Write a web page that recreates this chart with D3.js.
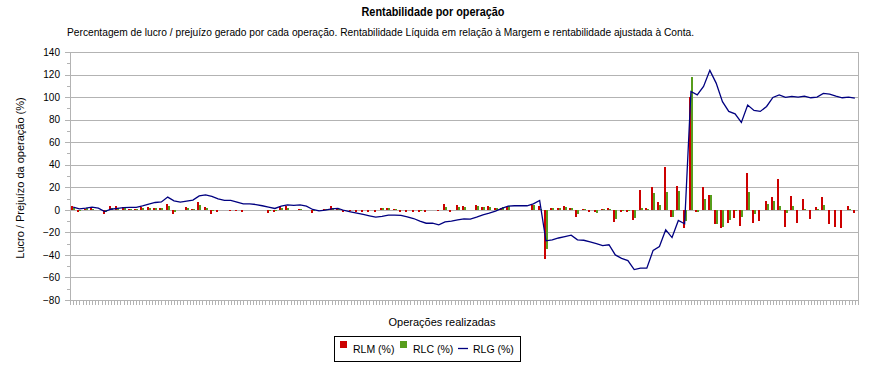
<!DOCTYPE html>
<html>
<head>
<meta charset="utf-8">
<script src="https://cdn.jsdelivr.net/npm/d3@7"></script>
<style>
  body { margin: 0; background: #fff; }
  text { font-family: "Liberation Sans", Arial, sans-serif; fill: #000; }
</style>
</head>
<body>
<div id="chart"></div>
<script>
// --- dados (125 operações) ---
const RLM = [3.5, -2, 1, 2, -0.5, -4, 3, 3, 2.5, 1, 1, 2.5, 2.5, 1.5, 1.5, 5, -4, -0.5, 2.5, 1,
  6.5, 2.5, -4, -2, 0, -1, -1, -1.5, -0.5, 0, 0, -2.5, -2, 3, 3, -0.5, 0.5, 0, -3, -1,
  1, 3, 1, -2, -1, -1.5, -1.5, -1.5, -1.5, 2, 2, 1, -1.5, -1.5, -1.5, -2, -1.5, 0, -1, 5.5,
  -1.5, 4, 3.5, -0.5, 4.5, 2.5, 3.5, 2, 2, 2.5, 0, 0, -0.5, 4.5, 3, -44, 2, 2, 3.5, 2,
  -6, 1, -1.5, -2, 0.5, 2, -11, -2, -1.5, -9, 17.5, 2, 20, 6.5, 38, -6, 21, -16.5, 100, -2,
  20, 13, -13, -16, -12, -7, -14.5, 33, -11.5, -9.5, 8, 11, 27, -15.5, 12, -12, 10, -8.5, 2.5, 11,
  -13, -15.5, -16.5, 3.5, -2.5];
const RLC = [1.5, -1, 1.5, 1, 0, -2, 1.5, 2, 1.5, 0.7, 1, 1.5, 1.5, 1.5, 1.5, 3.5, -1.5, -0.5, 1.5, 1,
  4.5, 1.5, -1, -0.5, 0, -0.5, -0.5, -0.5, 0, 0, 0, -1, -1, 2, 2, 0, 0.3, 0, -1, -0.5,
  0.5, 2, 1, -1, -0.5, -0.5, -0.5, -0.5, -0.5, 1.5, 2, 0.5, -0.5, -0.5, -0.5, -1, -0.5, 0, -0.5, 2.5,
  -0.5, 2.5, 2.5, 0, 3, 2.5, 2.5, 2, 2.5, 3, 0, 0, -0.5, 4, 1, -35, 2, 2, 2.5, 2,
  -4, 0.5, -0.5, -2.5, 0.5, 1, -8, -1, -1, -7, 2, 1, 15, 4.5, 15.5, -6, 16.5, -10, 118, -2,
  10, 13, -13, -15, -9, -1, -6.5, 16, -4, 0, 5.5, 8, 3, -2.5, 3, -0.5, 1, -0.5, 1, 4.5,
  -0.5, -0.5, -0.5, 1, 0];
const RLG = [2.4, 0.9, 1.5, 2.4, 1.5, -1.5, 0.5, 1.2, 2, 2.2, 2.2, 3.5, 5, 6.5, 7, 11.3, 8, 6.8, 7.7, 8.6,
  12.4, 13.3, 11.9, 9.8, 8.3, 8.3, 6.8, 5.3, 5.3, 4.7, 3.6, 2.4, 1.2, 3.3, 4.4, 3.9, 4.4, 3.3, 0.3, -0.9,
  -0.3, 0.9, 1.2, -0.6, -1.8, -3, -4.1, -5.3, -6.5, -5.9, -4.7, -4.7, -5, -6.2, -7.7, -10, -11.9, -11.9, -13.3, -10.7,
  -10, -9, -8, -8.3, -6.5, -4.4, -3, -1.2, 1.2, 3.3, 3.6, 3.6, 3.6, 5.3, 8.3, -27.5, -26.6, -25, -23.7, -22.5,
  -26.6, -27, -28.4, -30, -31.7, -31, -40, -43, -45, -53, -51.8, -51.8, -36, -32.5, -17.8, -24.6, -9.5, -12.4, 105, 102,
  109.5, 123.7, 112.4, 96, 87.3, 85.2, 77.5, 92.9, 88.2, 87.3, 91.7, 99.7, 102, 99.7, 100.6, 100, 100.9, 99.4, 100, 103.3,
  102.7, 100.9, 99.4, 100, 99.1];
const SERIES = ["RLM (%)", "RLC (%)", "RLG (%)"];
const COLORS = ["#cc0000", "#579d1c", "#000080"];
const Y_TICKS = d3.range(-80, 141, 20);

const W = 890, H = 366;
const pL = 70, pR = 858, pT = 52, pB = 300;

const svg = d3.select("#chart").append("svg").attr("width", W).attr("height", H);

const ops = RLM.map((_, i) => i);
const x = d3.scaleBand().domain(ops).range([pL, pR]);
const xs = d3.scaleBand().domain([0, 1]).range([-2, 2]); // barras lado a lado
const y = d3.scaleLinear().domain([-80, 140]).range([pB, pT]);
const cx = i => x(i) + x.bandwidth() / 2;

// grelha
svg.append("g")
  .attr("transform", `translate(${pL},0)`)
  .call(d3.axisLeft(y).tickValues(Y_TICKS).tickSize(-(pR - pL)).tickFormat(""))
  .call(g => g.select(".domain").remove())
  .call(g => g.selectAll("line").attr("stroke", "#b3b3b3").attr("shape-rendering", "crispEdges"));

// eixo y
const yAxis = svg.append("g")
  .attr("transform", `translate(${pL},0)`)
  .call(d3.axisLeft(y).tickValues(Y_TICKS).tickSize(5).tickPadding(5))
  .call(g => g.selectAll("text").attr("font-size", 10).attr("font-family", "Liberation Sans, Arial, sans-serif"));
yAxis.selectAll("line, path").attr("stroke", "#b3b3b3").attr("shape-rendering", "crispEdges");
svg.append("g")
  .attr("transform", `translate(${pL},0)`)
  .call(d3.axisLeft(y).tickValues(d3.range(-70, 140, 20)).tickSize(3).tickFormat(""))
  .call(g => g.select(".domain").remove())
  .call(g => g.selectAll("line").attr("stroke", "#b3b3b3").attr("shape-rendering", "crispEdges"));

// borda direita
svg.append("line").attr("x1", pR).attr("x2", pR).attr("y1", pT).attr("y2", pB)
  .attr("stroke", "#b3b3b3").attr("shape-rendering", "crispEdges");

// eixo x: marcas a cada meia categoria
const xt = d3.scaleLinear().domain([0, ops.length * 2]).range([pL, pR]);
svg.append("g")
  .attr("transform", `translate(0,${pB})`)
  .call(d3.axisBottom(xt).tickValues(d3.range(0, ops.length * 2 + 1)).tickSize(5).tickFormat(""))
  .call(g => g.selectAll("line, path").attr("stroke", "#b3b3b3").attr("shape-rendering", "crispEdges"));

// barras
[RLM, RLC].forEach((vals, s) => {
  svg.append("g").attr("fill", COLORS[s]).attr("shape-rendering", "crispEdges")
    .selectAll("rect").data(vals).join("rect")
    .attr("x", (d, i) => Math.round(cx(i)) + xs(s))
    .attr("width", xs.bandwidth())
    .attr("y", d => y(Math.max(0, d)))
    .attr("height", d => Math.abs(y(d) - y(0)));
});

// linha RLG
svg.append("path")
  .datum(RLG)
  .attr("fill", "none")
  .attr("stroke", COLORS[2])
  .attr("stroke-width", 1.3)
  .attr("d", d3.line().x((d, i) => cx(i)).y(d => y(d)));

// títulos
svg.append("text").attr("x", 433).attr("y", 16).attr("text-anchor", "middle")
  .attr("font-size", 12).attr("font-weight", "bold")
  .attr("textLength", 143).attr("lengthAdjust", "spacingAndGlyphs")
  .text("Rentabilidade por operação");
svg.append("text").attr("x", 67).attr("y", 36)
  .attr("font-size", 11)
  .attr("textLength", 627).attr("lengthAdjust", "spacingAndGlyphs")
  .text("Percentagem de lucro / prejuízo gerado por cada operação. Rentabilidade Líquida em relação à Margem e rentabilidade ajustada à Conta.");
svg.append("text").attr("transform", `translate(24,178) rotate(-90)`).attr("text-anchor", "middle")
  .attr("font-size", 11).text("Lucro / Prejuízo da operação (%)");
svg.append("text").attr("x", 442).attr("y", 326).attr("text-anchor", "middle")
  .attr("font-size", 11).text("Operações realizadas");

// legenda
const lg = svg.append("g");
lg.append("rect").attr("x", 334.5).attr("y", 336.5).attr("width", 186).attr("height", 25)
  .attr("fill", "#fff").attr("stroke", "#000");
const items = [
  { x: 340, w: 7 }, { x: 400, w: 7 }, { x: 458, w: 10 }
];
SERIES.forEach((name, s) => {
  const it = items[s];
  if (s < 2) {
    lg.append("rect").attr("x", it.x).attr("y", 341).attr("width", 7).attr("height", 7).attr("fill", COLORS[s]);
  } else {
    lg.append("line").attr("x1", it.x).attr("x2", it.x + it.w).attr("y1", 348.5).attr("y2", 348.5)
      .attr("stroke", COLORS[s]).attr("stroke-width", 1.3);
  }
  lg.append("text").attr("x", it.x + (s < 2 ? 13 : 15)).attr("y", 352.5).attr("font-size", 10.5).text(name);
});
</script>
</body>
</html>
